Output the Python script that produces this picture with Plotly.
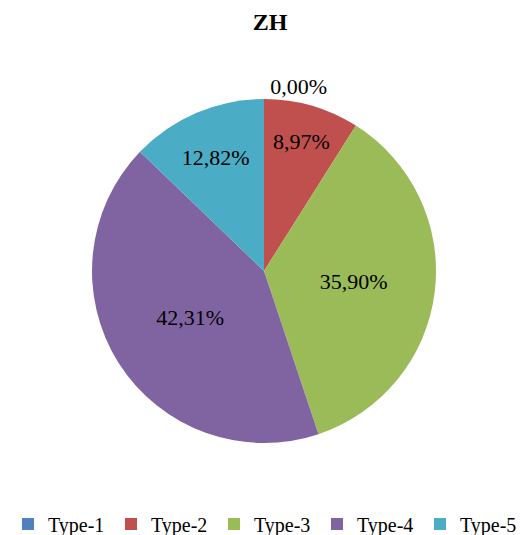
import plotly.graph_objects as go

categories = ["Type-1", "Type-2", "Type-3", "Type-4", "Type-5"]
values = [0.00, 8.97, 35.90, 42.31, 12.82]
colors = ["#4F81BD", "#C0504D", "#9BBB59", "#8064A2", "#4BACC6"]
title_text = "ZH"

labels_text = [f"{v:.2f}%".replace(".", ",") for v in values]
positions = ["outside" if v == 0 else "inside" for v in values]

font_family = "Liberation Serif, DejaVu Serif, serif"

W, H = 524, 535
fig = go.Figure(go.Pie(
    labels=categories,
    values=values,
    text=labels_text,
    textinfo="text",
    textposition=positions,
    insidetextorientation="horizontal",
    sort=False,
    direction="clockwise",
    rotation=0,
    marker=dict(colors=colors, line=dict(color="white", width=0)),
    textfont=dict(family=font_family, size=22, color="black"),
    outsidetextfont=dict(family=font_family, size=22, color="black"),
    hoverinfo="label+percent",
    domain=dict(x=[84 / W, (W - 96) / W], y=[0, 1]),
))

fig.update_layout(
    width=W, height=H,
    paper_bgcolor="white", plot_bgcolor="white",
    title=dict(text=f"<b>{title_text}</b>", x=0.5, xanchor="center", y=1 - 14 / H, yanchor="middle",
               font=dict(family=font_family, size=24, color="black")),
    margin=dict(l=0, r=0, t=77, b=86),
    showlegend=True,
    legend=dict(orientation="h", xref="container", yref="container",
                x=0.0, xanchor="left", y=1 - 516 / H, yanchor="middle",
                font=dict(family=font_family, size=20, color="black"),
                traceorder="normal", itemwidth=30, entrywidth=58),
)

fig.write_html("out.html")
